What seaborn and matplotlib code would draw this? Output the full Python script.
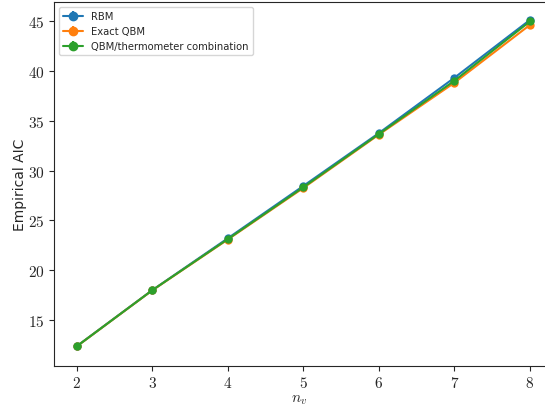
import numpy as np
import matplotlib
matplotlib.use("Agg")
import matplotlib.pyplot as plt
import seaborn as sns
import pandas as pd

nv = [2, 3, 4, 5, 6, 7, 8]
rbm = [12.38, 18.0, 23.2, 28.45, 33.75, 39.3, 45.1]
exact_qbm = [12.36, 17.98, 23.08, 28.25, 33.6, 38.8, 44.6]
combo = [12.37, 17.99, 23.12, 28.32, 33.66, 39.0, 44.95]
rbm_err = [0.05, 0.06, 0.08, 0.1, 0.1, 0.15, 0.2]
exact_err = [0.05, 0.06, 0.08, 0.1, 0.1, 0.15, 0.2]
combo_err = [0.05, 0.06, 0.08, 0.1, 0.1, 0.15, 0.2]
labels = ["RBM", "Exact QBM", "QBM/thermometer combination"]

sns.set_style("ticks")
plt.rcParams["mathtext.fontset"] = "cm"
plt.rcParams["font.family"] = ["DejaVu Sans"]

fig = plt.figure(figsize=(5.45, 4.06), dpi=100)
ax = fig.add_axes([54/545, 39/406, 1 - 54/545, 364/406])

colors = sns.color_palette("tab10")[:3]
handles = []
for ys, es, lab, c in zip([rbm, exact_qbm, combo], [rbm_err, exact_err, combo_err], labels, colors):
    df = pd.DataFrame({"nv": nv, "aic": ys})
    sns.lineplot(data=df, x="nv", y="aic", ax=ax, color=c, marker="o",
                 markersize=6, markeredgewidth=0, linewidth=1.5, legend=False)
    ax.errorbar(nv, ys, yerr=es, fmt="none", ecolor=c, capsize=2, elinewidth=1)
    handles.append(ax.errorbar([], [], yerr=[], fmt="-o", color=c, capsize=2,
                               markersize=6, linewidth=1.5))

ax.spines["right"].set_visible(False)
ax.set_xlim(1.7, 8.2)
ax.set_ylim(10.4, 46.9)
ax.set_xticks(nv)
ax.set_xticklabels([f"${v}$" for v in nv], fontsize=11)
yt = [15, 20, 25, 30, 35, 40, 45]
ax.set_yticks(yt)
ax.set_yticklabels([f"${v}$" for v in yt], fontsize=11)
ax.tick_params(length=3.5, pad=3)
ax.set_xlabel("$n_v$", fontsize=11, labelpad=1)
ax.set_ylabel("Empirical AIC", fontsize=10, labelpad=1)
ax.legend(handles, labels, loc="upper left", fontsize=7.2, frameon=True,
          borderaxespad=0.5, handlelength=2)

fig.savefig("out.png", dpi=100)
